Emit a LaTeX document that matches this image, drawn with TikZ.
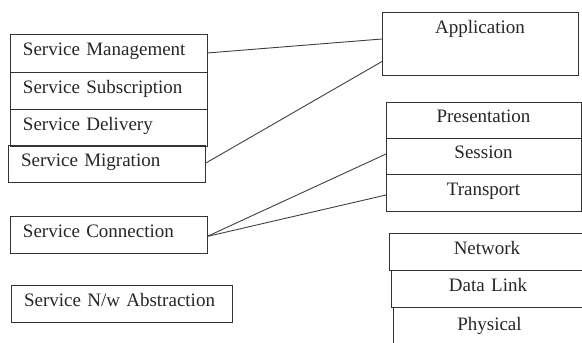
\documentclass[tikz,border=0pt]{standalone}
\usepackage{fontspec}
\setmainfont{Liberation Serif}
\begin{document}
\begin{tikzpicture}[x=1pt,y=-1pt,
  box/.style={draw=black!80, line width=0.9pt, inner sep=0pt, outer sep=0pt,
    anchor=north west, text height=12pt, text depth=6.5pt,
    font=\fontsize{19}{22}\selectfont, text=black!85},
  lbox/.style={box, inner xsep=13pt, align=left},
  rbox/.style={box, align=center},
  link/.style={draw=black!75, line width=0.9pt}]
\clip (0,0) rectangle (582,343);
% left stack
\node[lbox, text width=171pt, minimum height=38pt] (mgmt) at (10,34) {Service Management};
\node[lbox, text width=171pt, minimum height=37pt] (subs) at (10,72) {Service Subscription};
\node[lbox, text width=171pt, minimum height=37pt] (deliv) at (10,109) {Service Delivery};
\node[lbox, text width=171pt, minimum height=37pt] (migr) at (8,145) {Service Migration};
\node[lbox, text width=171pt, minimum height=37pt] (conn) at (10,216) {Service Connection};
\node[lbox, text width=195pt, minimum height=37pt] (abstr) at (11,285) {Service N/w Abstraction};
% right side
\node[rbox, text width=196pt, minimum height=63pt, text depth=32.4pt] (app) at (382,12) {Application};
\node[rbox, text width=195pt, minimum height=36pt] (pres) at (386,102) {Presentation};
\node[rbox, text width=195pt, minimum height=36pt] (sess) at (386,138) {Session};
\node[rbox, text width=195pt, minimum height=37pt] (trans) at (386,174) {Transport};
\node[rbox, text width=196pt, minimum height=37pt] (net) at (389,233) {Network};
\node[rbox, text width=194pt, minimum height=37pt] (dlink) at (391,270) {Data Link};
\node[rbox, text width=193pt, minimum height=42pt] (phys) at (393,307) {Physical};
% connectors
\draw[link] (mgmt.east) -- ([yshift=4.5pt]app.west);
\draw[link] (migr.east) -- ([yshift=-18pt]app.west);
\draw[link] ([yshift=-2pt]conn.east) -- ([yshift=2pt]sess.west);
\draw[link] ([yshift=-2pt]conn.east) -- ([yshift=-2.5pt]trans.west);
\end{tikzpicture}
\end{document}
